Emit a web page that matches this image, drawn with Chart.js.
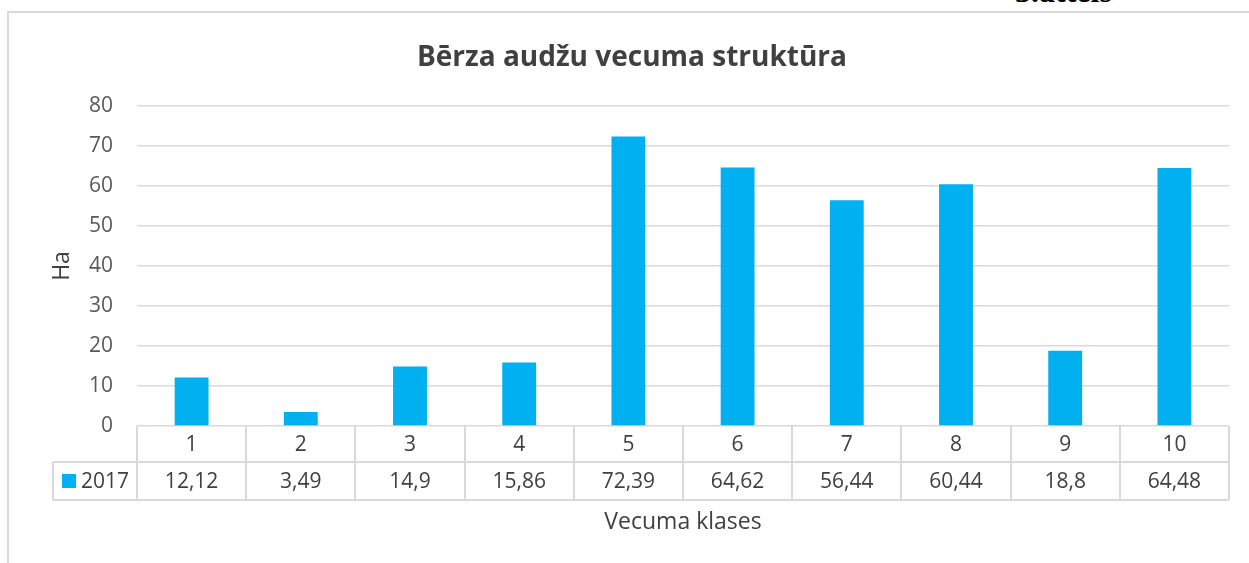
<!DOCTYPE html>
<html>
<head>
<meta charset="utf-8">
<script src="https://cdn.jsdelivr.net/npm/chart.js@4/dist/chart.umd.min.js"></script>
<style>
  html, body { margin: 0; padding: 0; background: #fff; overflow: hidden; }
  #wrap { position: relative; width: 1249px; height: 563px; overflow: hidden; }
  #frame { position: absolute; left: 7px; top: 11px; width: 1300px; height: 600px;
           border-left: 2px solid #d9d9d9; border-top: 2px solid #d9d9d9; box-sizing: border-box; }
  #cap { position: absolute; left: 1015px; top: -25px; font: bold 32px "Liberation Serif", serif;
         line-height: 32px; color: #000; white-space: nowrap; }
  canvas { position: absolute; left: 0; top: 0; }
</style>
</head>
<body>
<div id="wrap">
  <div id="frame"></div>
  <div id="cap">3.attēls</div>
  <canvas id="c" width="1249" height="563"></canvas>
</div>
<script>
const categories = ['1', '2', '3', '4', '5', '6', '7', '8', '9', '10'];
const seriesName = '2017';
const values2017 = [12.12, 3.49, 14.9, 15.86, 72.39, 64.62, 56.44, 60.44, 18.8, 64.48];
const yTicks = [0, 10, 20, 30, 40, 50, 60, 70, 80];
const chartTitle = 'Bērza audžu vecuma struktūra';
const yTitle = 'Ha';
const xTitle = 'Vecuma klases';

const BAR = '#00B0F0';
const GRID = '#d9d9d9';
const TEXT = '#404040';
const FONT = '"Open Sans", "Noto Sans", sans-serif';

const fmt = v => String(v).replace('.', ',');

const tablePlugin = {
  id: 'dataTable',
  afterDraw(chart) {
    const ctx = chart.ctx;
    const xs = chart.scales.x;
    const ca = chart.chartArea;
    const n = categories.length;
    const cw = (ca.right - ca.left) / n;
    const r0 = ca.bottom, r1 = ca.bottom + 36, r2 = ca.bottom + 74;
    const legLeft = 53;
    ctx.save();
    ctx.strokeStyle = GRID;
    ctx.lineWidth = 2;
    ctx.beginPath();
    ctx.moveTo(legLeft, r1); ctx.lineTo(ca.right, r1);
    ctx.moveTo(legLeft, r2); ctx.lineTo(ca.right, r2);
    for (let i = 0; i <= n; i++) {
      const x = Math.round(ca.left + i * cw);
      ctx.moveTo(x, r0); ctx.lineTo(x, r2);
    }
    ctx.moveTo(legLeft, r1); ctx.lineTo(legLeft, r2);
    ctx.stroke();

    ctx.fillStyle = TEXT;
    ctx.font = '21px ' + FONT;
    ctx.textAlign = 'center';
    ctx.textBaseline = 'middle';
    for (let i = 0; i < n; i++) {
      const cx = xs.getPixelForValue(i);
      ctx.fillText(categories[i], cx, (r0 + r1) / 2 + 1);
      ctx.fillText(fmt(values2017[i]), cx, (r1 + r2) / 2 + 1);
    }
    ctx.fillStyle = BAR;
    ctx.fillRect(62, (r1 + r2) / 2 - 7, 14, 14);
    ctx.fillStyle = TEXT;
    ctx.textAlign = 'left';
    ctx.fillText(seriesName, 81, (r1 + r2) / 2 + 1);

    ctx.font = '23px ' + FONT;
    ctx.textAlign = 'center';
    ctx.fillText(xTitle, (ca.left + ca.right) / 2, 522);
    ctx.restore();
  }
};

new Chart(document.getElementById('c'), {
  type: 'bar',
  data: {
    labels: categories,
    datasets: [{
      label: seriesName,
      data: values2017,
      backgroundColor: BAR,
      borderWidth: 0,
      categoryPercentage: 1.0,
      barPercentage: 0.31
    }]
  },
  options: {
    responsive: false,
    animation: false,
    devicePixelRatio: 1,
    layout: { padding: { left: 35, right: 20, top: 20, bottom: 137 } },
    plugins: {
      legend: { display: false },
      tooltip: { enabled: false },
      title: {
        display: true,
        text: chartTitle,
        color: TEXT,
        font: { family: FONT, size: 28, weight: 'bold', lineHeight: 1.2 },
        padding: { top: 21.2, bottom: 31.2 }
      }
    },
    scales: {
      x: { display: false },
      y: {
        min: 0, max: 80,
        afterBuildTicks(scale) { scale.ticks = yTicks.map(v => ({ value: v })); },
        afterFit(scale) { scale.width = 102; },
        ticks: { stepSize: 10, padding: 24, color: '#595959', font: { family: FONT, size: 21 } },
        grid: { color: GRID, lineWidth: 1.5, drawTicks: false },
        border: { display: false },
        title: {
          display: true, text: yTitle, color: TEXT,
          font: { family: FONT, size: 23, lineHeight: 1.2 },
          padding: { top: 13.2, bottom: 0 }
        }
      }
    }
  },
  plugins: [tablePlugin]
});
</script>
</body>
</html>
